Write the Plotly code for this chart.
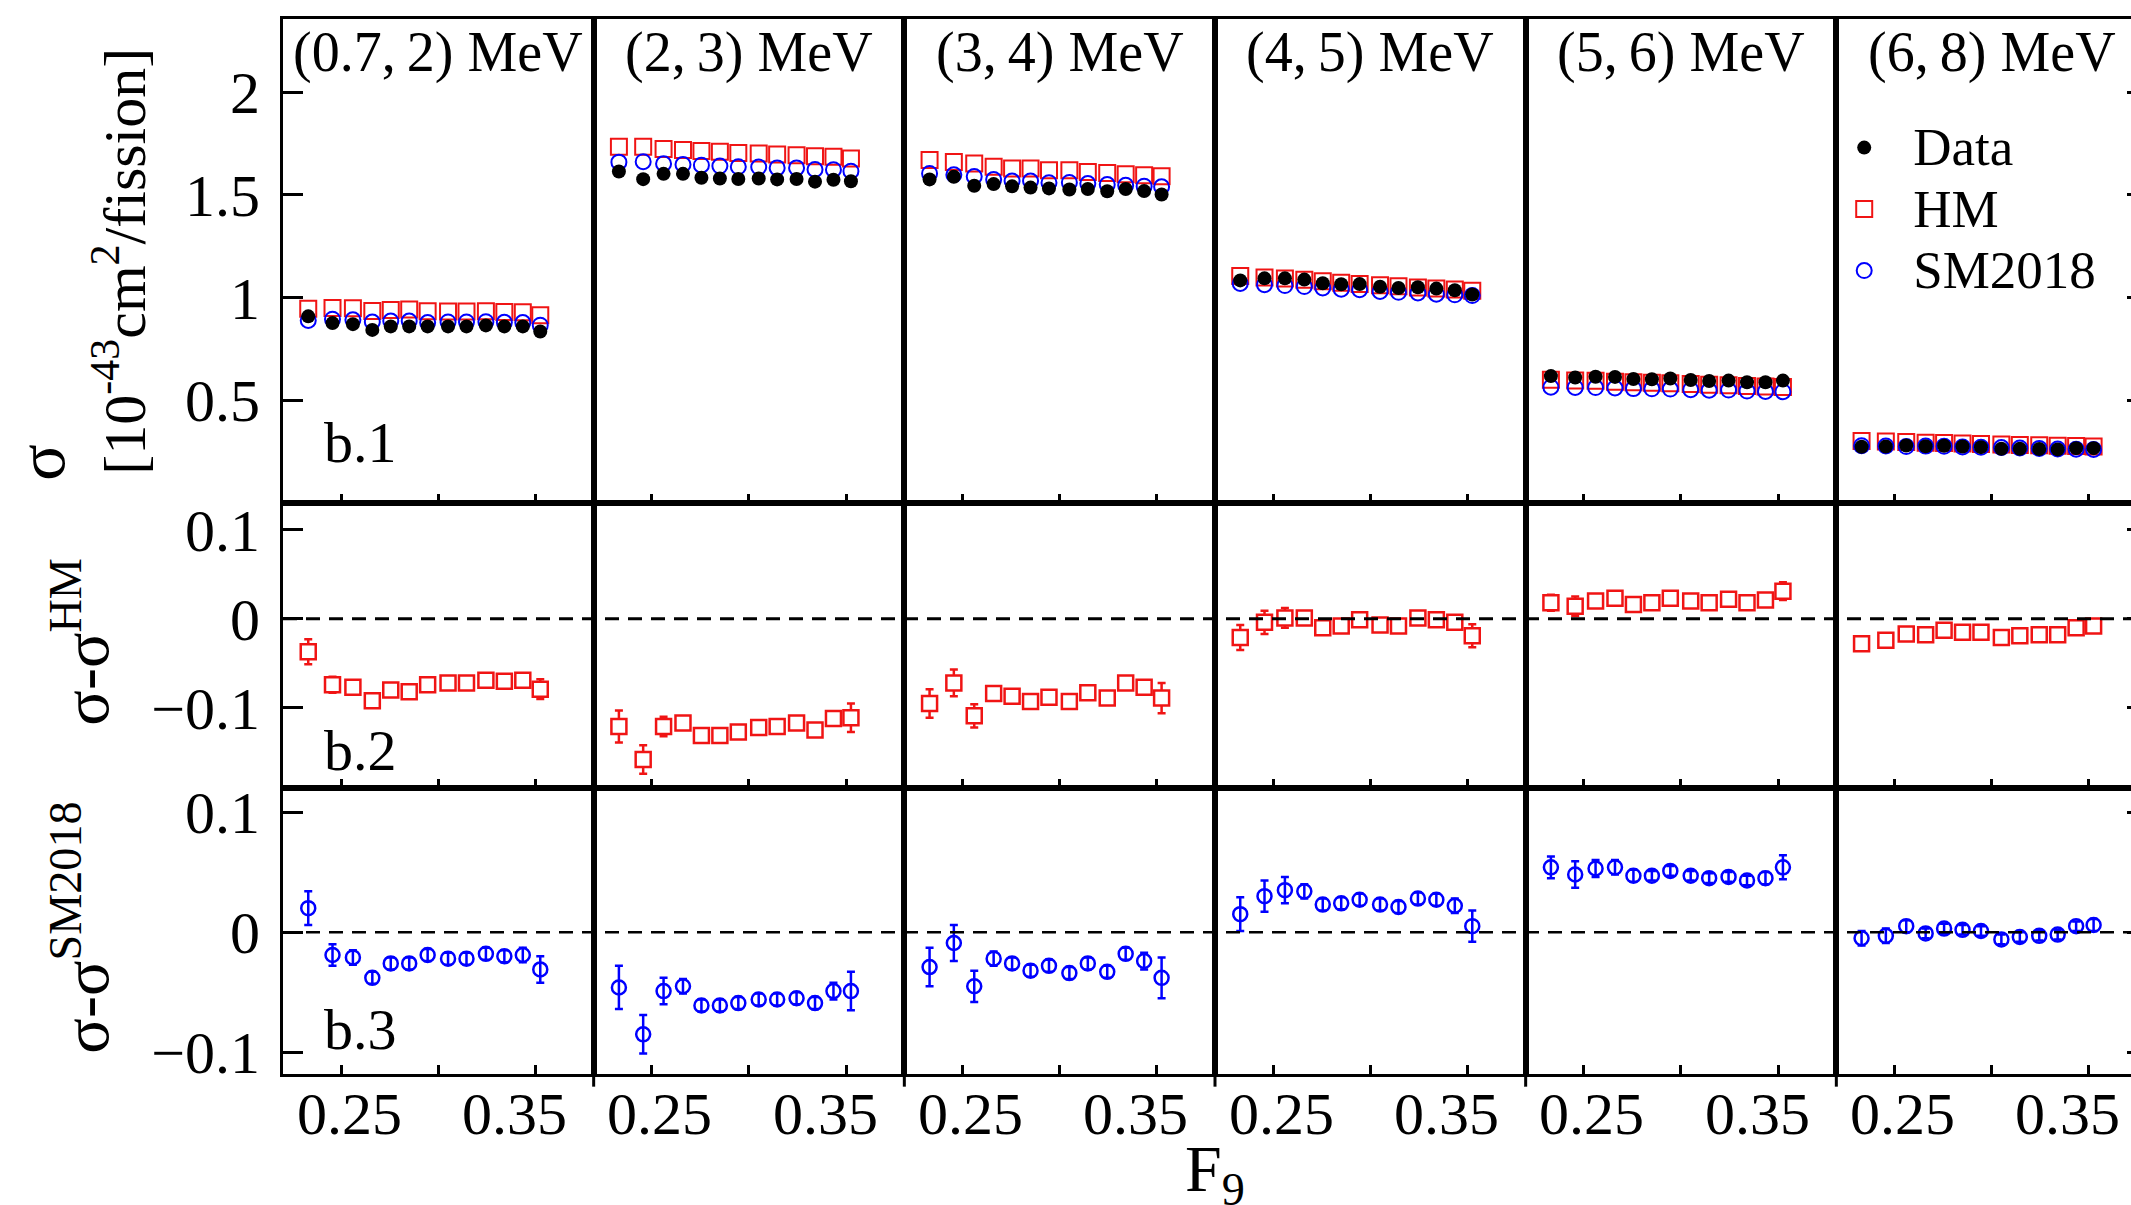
import plotly.graph_objects as go
from plotly.subplots import make_subplots

# F9 bin centres (same binning in every prompt-energy window)
f9 = [0.233, 0.2455, 0.256, 0.266, 0.2755, 0.285, 0.2945, 0.305, 0.3145, 0.3245, 0.334, 0.3435, 0.3525]

energy_bins = ["(0.7,\u20092) MeV", "(2,\u20093) MeV", "(3,\u20094) MeV",
               "(4,\u20095) MeV", "(5,\u20096) MeV", "(6,\u20098) MeV"]

# IBD yield per fission [1e-43 cm^2/fission], one row per energy window
sigma_data = [
    [0.909, 0.876, 0.871, 0.843, 0.860, 0.860, 0.860, 0.860, 0.860, 0.865, 0.860, 0.860, 0.835],
    [1.614, 1.577, 1.603, 1.603, 1.584, 1.580, 1.578, 1.580, 1.576, 1.578, 1.565, 1.574, 1.567],
    [1.576, 1.589, 1.545, 1.553, 1.542, 1.536, 1.532, 1.527, 1.529, 1.518, 1.529, 1.519, 1.502],
    [1.084, 1.094, 1.094, 1.088, 1.070, 1.065, 1.066, 1.053, 1.047, 1.051, 1.044, 1.036, 1.015],
    [0.618, 0.611, 0.615, 0.614, 0.604, 0.603, 0.606, 0.599, 0.594, 0.596, 0.588, 0.588, 0.596],
    [0.274, 0.275, 0.280, 0.276, 0.279, 0.275, 0.272, 0.264, 0.264, 0.263, 0.261, 0.267, 0.267],
]
sigma_hm = [
    [0.946, 0.950, 0.948, 0.935, 0.940, 0.942, 0.934, 0.932, 0.932, 0.934, 0.930, 0.929, 0.914],
    [1.735, 1.735, 1.724, 1.719, 1.714, 1.710, 1.705, 1.702, 1.697, 1.694, 1.689, 1.686, 1.678],
    [1.670, 1.661, 1.653, 1.637, 1.629, 1.629, 1.620, 1.620, 1.612, 1.607, 1.601, 1.596, 1.591],
    [1.105, 1.098, 1.093, 1.087, 1.080, 1.073, 1.067, 1.060, 1.055, 1.050, 1.045, 1.040, 1.034],
    [0.600, 0.597, 0.595, 0.591, 0.588, 0.585, 0.583, 0.579, 0.576, 0.574, 0.570, 0.567, 0.565],
    [0.302, 0.299, 0.297, 0.294, 0.292, 0.290, 0.287, 0.285, 0.283, 0.281, 0.279, 0.277, 0.275],
]
sigma_sm2018 = [
    [0.889, 0.895, 0.892, 0.881, 0.886, 0.886, 0.879, 0.882, 0.882, 0.883, 0.880, 0.879, 0.866],
    [1.660, 1.662, 1.652, 1.648, 1.645, 1.641, 1.637, 1.636, 1.632, 1.632, 1.624, 1.623, 1.616],
    [1.605, 1.598, 1.590, 1.575, 1.568, 1.568, 1.560, 1.561, 1.556, 1.551, 1.547, 1.543, 1.540],
    [1.069, 1.063, 1.059, 1.054, 1.047, 1.041, 1.039, 1.030, 1.026, 1.023, 1.017, 1.014, 1.010],
    [0.564, 0.563, 0.562, 0.560, 0.557, 0.556, 0.555, 0.552, 0.549, 0.550, 0.545, 0.543, 0.542],
    [0.279, 0.278, 0.275, 0.277, 0.276, 0.273, 0.271, 0.270, 0.268, 0.266, 0.263, 0.262, 0.261],
]
sigma_err = [
    [0.014, 0.009, 0.006, 0.005, 0.005, 0.005, 0.005, 0.005, 0.005, 0.005, 0.005, 0.006, 0.011],
    [0.018, 0.016, 0.011, 0.006, 0.005, 0.005, 0.005, 0.005, 0.005, 0.005, 0.005, 0.007, 0.016],
    [0.016, 0.015, 0.013, 0.006, 0.005, 0.005, 0.005, 0.005, 0.005, 0.005, 0.005, 0.007, 0.017],
    [0.014, 0.013, 0.011, 0.006, 0.005, 0.005, 0.005, 0.005, 0.005, 0.005, 0.005, 0.006, 0.013],
    [0.009, 0.011, 0.007, 0.006, 0.005, 0.004, 0.004, 0.004, 0.004, 0.004, 0.004, 0.005, 0.010],
    [0.006, 0.006, 0.005, 0.004, 0.004, 0.004, 0.004, 0.004, 0.004, 0.004, 0.004, 0.004, 0.005],
]
# residuals sigma - sigma_model
diff_hm = [
    [-0.037, -0.074, -0.077, -0.092, -0.080, -0.082, -0.074, -0.072, -0.072, -0.069, -0.070, -0.069, -0.079],
    [-0.121, -0.158, -0.121, -0.117, -0.131, -0.131, -0.127, -0.122, -0.121, -0.117, -0.125, -0.112, -0.111],
    [-0.095, -0.072, -0.109, -0.084, -0.087, -0.093, -0.088, -0.093, -0.083, -0.089, -0.072, -0.077, -0.089],
    [-0.021, -0.004, 0.001, 0.001, -0.010, -0.008, -0.001, -0.007, -0.008, 0.001, -0.001, -0.004, -0.019],
    [0.018, 0.014, 0.020, 0.023, 0.016, 0.018, 0.023, 0.020, 0.018, 0.022, 0.018, 0.021, 0.031],
    [-0.028, -0.024, -0.017, -0.018, -0.013, -0.015, -0.015, -0.021, -0.019, -0.018, -0.018, -0.010, -0.008],
]
diff_sm2018 = [
    [0.020, -0.019, -0.021, -0.038, -0.026, -0.026, -0.019, -0.022, -0.022, -0.018, -0.020, -0.019, -0.031],
    [-0.046, -0.085, -0.049, -0.045, -0.061, -0.061, -0.059, -0.056, -0.056, -0.055, -0.059, -0.049, -0.049],
    [-0.029, -0.009, -0.045, -0.022, -0.026, -0.032, -0.028, -0.034, -0.026, -0.033, -0.018, -0.024, -0.038],
    [0.015, 0.030, 0.035, 0.034, 0.023, 0.024, 0.027, 0.023, 0.021, 0.028, 0.027, 0.022, 0.005],
    [0.054, 0.048, 0.053, 0.054, 0.047, 0.047, 0.051, 0.047, 0.045, 0.046, 0.043, 0.045, 0.054],
    [-0.005, -0.003, 0.005, -0.001, 0.003, 0.002, 0.001, -0.006, -0.004, -0.003, -0.002, 0.005, 0.006],
]

x_tickvals = [0.25, 0.30, 0.35]
x_labels = [(0.25, "0.25"), (0.35, "0.35")]
sigma_tickvals = [0.5, 1, 1.5, 2]
sigma_ticktext = ["0.5", "1", "1.5", "2"]
diff_tickvals = [-0.1, 0, 0.1]

X_RANGE = [0.22, 0.38]
SIGMA_RANGE = [0.0, 2.357]
DIFF_HM_RANGE = [-0.19, 0.13]
DIFF_SM_RANGE = [-0.118, 0.12]

RED = "#f01414"
BLUE = "#0000ff"
FONT = "Liberation Serif, Times New Roman, serif"
NCOL = 6

fig = make_subplots(rows=3, cols=NCOL, horizontal_spacing=0, vertical_spacing=0,
                    row_heights=[484, 285, 286])

for c in range(NCOL):
    col = c + 1
    first = c == 0
    # top row: absolute yields
    fig.add_trace(go.Scatter(
        x=f9, y=sigma_hm[c], mode="markers", legendrank=2, showlegend=first,
        name='<span style="font-size:53px">HM</span>',
        marker=dict(symbol="square-open", size=16, color=RED, line=dict(width=2, color=RED)),
    ), row=1, col=col)
    fig.add_trace(go.Scatter(
        x=f9, y=sigma_sm2018[c], mode="markers", legendrank=3, showlegend=first,
        name='<span style="font-size:53px">SM2018</span>',
        marker=dict(symbol="circle-open", size=15, color=BLUE, line=dict(width=2, color=BLUE)),
    ), row=1, col=col)
    fig.add_trace(go.Scatter(
        x=f9, y=sigma_data[c], mode="markers", legendrank=1, showlegend=first,
        name='<span style="font-size:53px">Data</span>',
        marker=dict(symbol="circle", size=14, color="black"),
        error_y=dict(type="data", array=sigma_err[c], color="black", thickness=2, width=4),
    ), row=1, col=col)
    # middle row: data - HM
    fig.add_trace(go.Scatter(
        x=f9, y=diff_hm[c], mode="markers", showlegend=False,
        marker=dict(symbol="square", size=15, color="white", line=dict(width=2.5, color=RED)),
        error_y=dict(type="data", array=sigma_err[c], color=RED, thickness=2.5, width=4),
    ), row=2, col=col)
    # bottom row: data - SM2018
    fig.add_trace(go.Scatter(
        x=f9, y=diff_sm2018[c], mode="markers", showlegend=False,
        marker=dict(symbol="circle-open", size=14, color=BLUE, line=dict(width=2.5, color=BLUE)),
        error_y=dict(type="data", array=sigma_err[c], color=BLUE, thickness=2.5, width=4),
    ), row=3, col=col)

tick_font = dict(family=FONT, size=60, color="black")
for r in range(1, 4):
    for c in range(1, NCOL + 1):
        fig.update_xaxes(row=r, col=c, range=X_RANGE, showline=True, linewidth=3, linecolor="black",
                         mirror=True, showgrid=False, zeroline=False, ticks="inside", ticklen=9,
                         tickwidth=3, tickcolor="black", tickvals=x_tickvals, showticklabels=False)
        if r == 1:
            yr, tv, tt = SIGMA_RANGE, sigma_tickvals, sigma_ticktext
        elif r == 2:
            yr, tv, tt = DIFF_HM_RANGE, diff_tickvals, None
        else:
            yr, tv, tt = DIFF_SM_RANGE, diff_tickvals, None
        yopts = dict(range=yr, showline=True, linewidth=3, linecolor="black", mirror=True,
                     showgrid=False, zeroline=False, tickvals=tv, tickfont=tick_font,
                     tickwidth=3, tickcolor="black", ticklen=20, ticklabelstandoff=8)
        if tt is not None:
            yopts["ticktext"] = tt
        if c == 1:
            yopts.update(ticks="inside", showticklabels=True, side="left")
        elif c == NCOL:
            yopts.update(ticks="inside", showticklabels=False, side="right")
        else:
            yopts.update(ticks="", showticklabels=False)
        fig.update_yaxes(row=r, col=c, **yopts)

# zero reference lines of the residual rows
shapes = []
for yref, w in (("y7", 3), ("y13", 2.5)):
    shapes.append(dict(type="line", xref="paper", x0=0, x1=1, yref=yref, y0=0, y1=0,
                       line=dict(color="black", width=w, dash="14px,9px"), layer="above"))
# short stubs of the panel separators below the frame
for c in range(2, NCOL + 1):
    ax = 12 + c
    shapes.append(dict(type="line", xref=f"x{ax} domain", x0=0, x1=0, yref="paper", y0=0, y1=-0.012,
                       line=dict(color="black", width=3)))

ann = []
# F9 tick labels under the bottom row; the outer labels sit nudged towards the panel centre
label_nudge = {"0.25": 8, "0.35": -21}
for c in range(NCOL):
    xref = f"x{2 * NCOL + c + 1}"
    for val, txt in x_labels:
        ann.append(dict(text=txt, xref=xref, yref="paper", x=val, y=-0.038, xshift=label_nudge[txt],
                        xanchor="center", yanchor="middle", showarrow=False, font=tick_font))
for c, label in enumerate(energy_bins):
    xref = "x domain" if c == 0 else f"x{c + 1} domain"
    ann.append(dict(text=label, xref=xref, yref="paper", x=0.5, y=0.968, xanchor="center",
                    yanchor="middle", showarrow=False, font=dict(family=FONT, size=56, color="black")))
for lab, xref, yref, yy in (("b.1", "x domain", "y domain", 0.126),
                            ("b.2", "x7 domain", "y7 domain", 0.133),
                            ("b.3", "x13 domain", "y13 domain", 0.154)):
    ann.append(dict(text=lab, xref=xref, yref=yref, x=0.125, y=yy, xanchor="left", yanchor="middle",
                    showarrow=False, font=dict(family=FONT, size=58, color="black")))

ytitle_font = dict(family=FONT, size=60, color="black")
ann.append(dict(text="\u03c3", xref="paper", yref="paper", x=-0.130, y=0.580, textangle=-90,
                xanchor="center", yanchor="middle", showarrow=False,
                font=dict(family=FONT, size=68, color="black")))
ann.append(dict(text="[10<sup>-43</sup>cm<sup>2</sup>/fission]", xref="paper", yref="paper",
                x=-0.0874, y=0.770, textangle=-90, xanchor="center", yanchor="middle",
                showarrow=False, font=ytitle_font))
diff_font = dict(family=FONT, size=66, color="black")
ann.append(dict(text="\u03c3-\u03c3<sup>HM</sup>", xref="paper", yref="paper", x=-0.108, y=0.4095,
                textangle=-90, xanchor="center", yanchor="middle", showarrow=False, font=diff_font))
ann.append(dict(text="\u03c3-\u03c3<sup>SM2018</sup>", xref="paper", yref="paper", x=-0.108, y=0.1384,
                textangle=-90, xanchor="center", yanchor="middle", showarrow=False, font=diff_font))
ann.append(dict(text="F<sub>9</sub>", xref="paper", yref="paper", x=0.5, y=-0.053, xanchor="center",
                yanchor="top", showarrow=False, font=dict(family=FONT, size=66, color="black")))

fig.update_layout(
    width=2150, height=1225, autosize=False,
    margin=dict(l=283, r=3, t=19, b=151),
    paper_bgcolor="white", plot_bgcolor="white",
    font=dict(family=FONT, color="black"),
    shapes=shapes, annotations=ann,
    legend=dict(x=0.8220, y=0.912, xanchor="left", yanchor="top", bgcolor="rgba(0,0,0,0)",
                font=dict(family=FONT, size=45, color="black"), itemwidth=88,
                tracegroupgap=0),
)

fig.write_html("out.html", post_script=(
    "document.documentElement.style.overflow='hidden';"
    "document.body.style.overflow='hidden';"
))
